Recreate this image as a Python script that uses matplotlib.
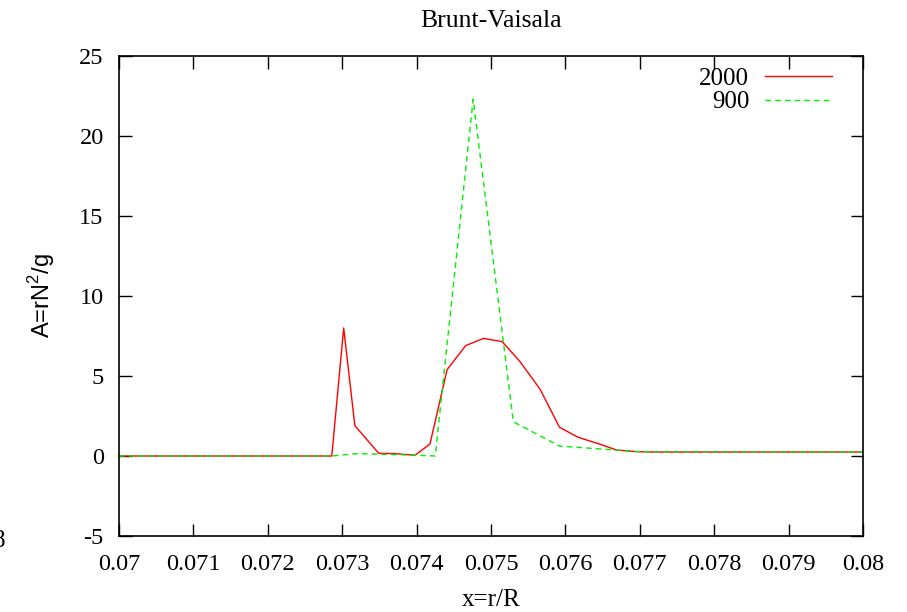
import matplotlib
matplotlib.use('Agg')
import matplotlib.pyplot as plt

# perfil 2000 (rojo)
x_2000 = [0.0700, 0.07286, 0.07302, 0.07317, 0.07349, 0.07370, 0.07398, 0.07418,
          0.07441, 0.07466, 0.07490, 0.07515, 0.07539, 0.07566, 0.07592, 0.07617,
          0.07647, 0.07669, 0.07696, 0.07720, 0.0800]
a_2000 = [0.0, 0.0, 8.0, 1.9, 0.17, 0.15, 0.05, 0.75,
          5.4, 6.9, 7.35, 7.15, 5.9, 4.17, 1.8, 1.17,
          0.73, 0.37, 0.27, 0.25, 0.25]

# perfil 900 (verde)
x_900 = [0.0700, 0.07286, 0.07320, 0.07400, 0.07425, 0.07476, 0.07530, 0.07592,
         0.07647, 0.07669, 0.07700, 0.0800]
a_900 = [0.0, 0.0, 0.15, 0.05, 0.0, 22.3, 2.14, 0.62,
         0.44, 0.37, 0.27, 0.25]

x_ticks = [0.07, 0.071, 0.072, 0.073, 0.074, 0.075, 0.076, 0.077, 0.078, 0.079, 0.08]
x_labels = ['0.07', '0.071', '0.072', '0.073', '0.074', '0.075', '0.076', '0.077', '0.078', '0.079', '0.08']
y_ticks = [-5, 0, 5, 10, 15, 20, 25]

plt.rcParams['font.family'] = ['Liberation Serif', 'DejaVu Serif']
plt.rcParams['axes.unicode_minus'] = False
plt.rcParams['mathtext.fontset'] = 'custom'
plt.rcParams['mathtext.rm'] = 'Liberation Sans'

fig = plt.figure(figsize=(9.07, 6.12), dpi=100)
ax = fig.add_axes([119 / 907, 1 - 536 / 612, 744 / 907, 480 / 612])

ax.plot(x_2000, a_2000, color='#ff0000', linewidth=1.0, label='2000')
ax.plot(x_900, a_900, color='#00ee00', linewidth=1.0, linestyle=(0, (4, 3)), label='900')

ax.set_xlim(0.07, 0.08)
ax.set_ylim(-5, 25)
ax.set_xticks(x_ticks)
ax.set_xticklabels(x_labels)
ax.set_yticks(y_ticks)
ax.tick_params(direction='in', length=9, width=1, top=True, right=True,
               labelsize=17.5)
ax.tick_params(axis='x', pad=13)
ax.tick_params(axis='y', pad=11)
for s in ax.spines.values():
    s.set_linewidth(1.2)

ax.set_title('Brunt-Vaisala', fontsize=18.5, pad=21)
ax.set_xlabel('x=r/R', fontsize=18, labelpad=10)
ax.set_ylabel('A=rN$^2$/g', fontsize=17, family=['Liberation Sans'], labelpad=16)

ax.legend(loc='upper right', bbox_to_anchor=(0.978, 1.008), frameon=False,
          markerfirst=False, fontsize=18, handlelength=2.68, handletextpad=0.62,
          labelspacing=0.05, borderaxespad=0.2)

# etiqueta cortada en el borde izquierdo
fig.text(5 / 907, 1 - 541 / 612, '8', ha='right', va='center', fontsize=18)

fig.savefig('out.png', dpi=100)
